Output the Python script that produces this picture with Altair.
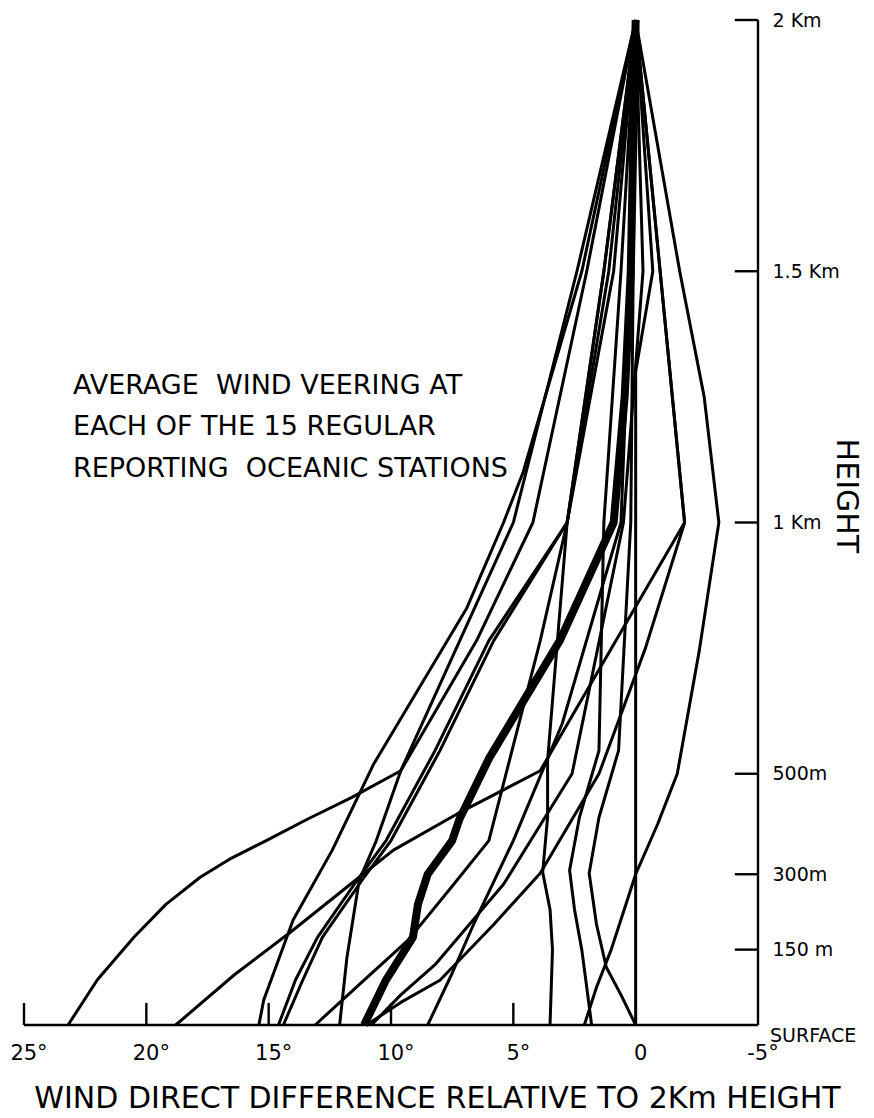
import altair as alt
import pandas as pd

# ---- station profiles: (height in m, wind direction difference in degrees) ----
STATION_01 = [(0, 23.2), (90, 22.0), (175, 20.5), (240, 19.2), (294, 17.8), (330, 16.6), (367, 15.1), (410, 13.4), (453, 11.6), (506, 9.6), (1000, 5.0), (1500, 2.4), (2000, 0)]
STATION_02 = [(0, 18.8), (100, 16.4), (185, 14.1), (294, 11.3), (348, 9.9), (420, 7.3), (506, 3.9), (1000, -2.0), (2000, 0)]
STATION_03 = [(0, 2.1), (75, 1.6), (150, 1.0), (225, 0.5), (300, 0.0), (400, -0.9), (500, -1.7), (745, -2.6), (1000, -3.4), (1250, -2.8), (1500, -1.8), (2000, 0)]
STATION_04 = [(0, 0.0), (1000, 0.0), (1300, 0.0), (1500, -0.7), (2000, 0)]
STATION_05 = [(0, 3.5), (150, 3.4), (230, 3.5), (304, 3.8), (413, 3.6), (526, 3.6), (1000, 2.8), (1500, 1.3), (2000, 0)]
STATION_06 = [(0, 1.8), (75, 2.0), (149, 2.2), (230, 2.5), (308, 2.7), (413, 2.3), (546, 1.5), (1000, 1.3), (1500, 0.6), (2000, 0)]
STATION_07 = [(0, 0.0), (60, 0.6), (115, 1.2), (200, 1.6), (302, 1.9), (413, 1.5), (546, 0.7), (1000, 0.2), (1500, 0.1), (2000, 0)]
STATION_08 = [(0, 15.4), (50, 15.2), (103, 14.8), (209, 14.0), (348, 12.4), (520, 10.7), (830, 6.9), (1000, 5.4), (1100, 4.6), (1500, 2.2), (2000, 0)]
STATION_09 = [(0, 14.6), (90, 13.9), (175, 13.0), (294, 11.3), (367, 10.2), (546, 8.2), (765, 6.0), (1000, 2.8), (1500, 1.3), (2000, 0)]
STATION_10 = [(0, 14.4), (90, 13.6), (175, 12.8), (294, 11.1), (367, 10.0), (546, 8.0), (765, 5.8), (1000, 2.8), (1500, 1.1), (2000, 0)]
STATION_11 = [(0, 13.1), (85, 11.2), (169, 9.3), (270, 7.6), (367, 6.0), (765, 3.9), (1000, 2.8), (1500, 0.9), (2000, 0)]
STATION_12 = [(0, 12.1), (135, 11.8), (288, 11.3), (367, 10.6), (506, 9.6), (765, 6.5), (1000, 4.2), (1500, 2.0), (2000, 0)]
STATION_13 = [(0, 8.5), (103, 7.5), (203, 6.6), (367, 5.0), (600, 3.0), (1000, 0.6), (1500, 0.2), (2000, 0)]
STATION_14 = [(0, 11.0), (45, 9.6), (89, 8.0), (200, 5.8), (302, 3.9), (500, 1.5), (750, -0.4), (1000, -2.0), (1500, -1.0), (2000, 0)]
STATION_15 = [(0, 10.8), (60, 9.6), (120, 8.2), (200, 6.8), (280, 5.4), (500, 2.6), (1000, 0.5), (1500, -0.3), (2000, 0)]
AVERAGE = [(0, 11.1), (90, 10.2), (175, 9.1), (240, 8.9), (300, 8.5), (367, 7.5), (410, 7.2), (530, 6.0), (765, 3.1), (1000, 0.9), (1250, 0.45), (1500, 0.2), (2000, 0)]

STATIONS = [STATION_01, STATION_02, STATION_03, STATION_04, STATION_05, STATION_06, STATION_07, STATION_08,
            STATION_09, STATION_10, STATION_11, STATION_12, STATION_13, STATION_14, STATION_15]

# ---- axes ----
X_LABEL_VALUES = [25, 20, 15, 10, 5, 0, -5]
X_LABELS = ["25°", "20°", "15°", "10°", "5°", "0", "-5°"]
X_TICKS = [25, 20, 15, 10, 5]
Y_TICKS = [150, 300, 500, 1000, 1500, 2000]
Y_TICK_LABELS = ["150 m", "300m", "500m", "1 Km", "1.5 Km", "2 Km"]
X_DOMAIN = [25, -5]
Y_DOMAIN = [0, 2000]

SP2 = "\u00a0 "
NOTE_LINES = ["AVERAGE" + SP2 + "WIND VEERING AT", "EACH OF THE 15 REGULAR", "REPORTING" + SP2 + "OCEANIC STATIONS"]
NOTE_X = 23.0
NOTE_Y = [1271, 1190, 1106]

FONT = "DejaVu Sans"

rows = []
for i, st in enumerate(STATIONS):
    for k, (h, d) in enumerate(st):
        rows.append({"station": f"S{i+1}", "order": k, "h": h, "deg": d})
lines_df = pd.DataFrame(rows)
avg_df = pd.DataFrame([{"station": "avg", "order": k, "h": h, "deg": d} for k, (h, d) in enumerate(AVERAGE)])

y_expr = " : ".join(f"datum.value == {v} ? '{t}'" for v, t in zip(Y_TICKS, Y_TICK_LABELS)) + " : ''"

xaxis = alt.Axis(values=X_LABEL_VALUES, labels=False,
                 domain=False, ticks=False, grid=False,
                 title="WIND DIRECT DIFFERENCE RELATIVE TO 2Km HEIGHT", titleFont=FONT,
                 titleFontSize=30, titleFontWeight="normal", titleColor="black",
                 titleX=413, titleY=82, titleBaseline="alphabetic", titleAlign="center")
yaxis = alt.Axis(orient="right", values=Y_TICKS, labelExpr=y_expr, domain=False, ticks=False,
                 grid=False, labelFlush=False, labelOverlap=False, labelFontSize=19,
                 labelPadding=14, labelFont=FONT, labelColor="black", title=None)

X = alt.X("deg:Q", scale=alt.Scale(domain=X_DOMAIN, nice=False, zero=False), axis=xaxis)
Y = alt.Y("h:Q", scale=alt.Scale(domain=Y_DOMAIN, nice=False, zero=False), axis=yaxis)

station_lines = alt.Chart(lines_df).mark_line(color="black", strokeWidth=3, strokeJoin="round").encode(
    x=X, y=Y, detail="station:N", order="order:Q")
avg_line = alt.Chart(avg_df).mark_line(color="black", strokeWidth=8, strokeJoin="round").encode(
    x=X, y=Y, order="order:Q")

# axis frame
frame_df = pd.DataFrame([
    {"deg": X_DOMAIN[0], "deg2": X_DOMAIN[1], "h": 0, "h2": 0},
    {"deg": X_DOMAIN[1], "deg2": X_DOMAIN[1], "h": Y_DOMAIN[0], "h2": Y_DOMAIN[1]},
] + [{"deg": t, "deg2": t, "h": 0, "h2": 44} for t in X_TICKS]
  + [{"deg": X_DOMAIN[1], "deg2": X_DOMAIN[1] + 0.95, "h": t, "h2": t} for t in Y_TICKS])
frame = alt.Chart(frame_df).mark_rule(color="black", strokeWidth=2.4).encode(
    x=X, x2="deg2:Q", y=Y, y2="h2:Q")

xlab_df = pd.DataFrame({"deg": X_LABEL_VALUES, "h": [0] * len(X_LABEL_VALUES), "text": X_LABELS})
xlabels = alt.Chart(xlab_df).mark_text(align="center", baseline="middle", font=FONT, fontSize=21,
                                       dx=5, dy=29, color="black").encode(x=X, y=Y, text="text:N")

note_df = pd.DataFrame({"deg": [NOTE_X] * 3, "h": NOTE_Y, "text": NOTE_LINES})
note = alt.Chart(note_df).mark_text(align="left", baseline="middle", font=FONT, fontSize=27,
                                    color="black").encode(x=X, y=Y, text="text:N")

surface = alt.Chart(pd.DataFrame({"deg": [X_DOMAIN[1]], "h": [0], "text": ["SURFACE"]})).mark_text(
    align="left", baseline="middle", font=FONT, fontSize=19, dx=12, dy=11, color="black").encode(
    x=X, y=Y, text="text:N")

height_title = alt.Chart(pd.DataFrame({"deg": [-8.6], "h": [1053], "text": ["HEIGHT"]})).mark_text(
    align="center", baseline="middle", font=FONT, fontSize=30, angle=90, color="black").encode(
    x=X, y=Y, text="text:N")

chart = alt.layer(frame, station_lines, avg_line, xlabels, note, surface, height_title).properties(
    width=734, height=1005,
    padding={"left": 16, "top": 12, "right": 108, "bottom": 90},
    autosize=alt.AutoSizeParams(type="none"),
    background="white",
).configure_view(stroke=None)

chart.save("out.html", embed_options={"renderer": "svg", "actions": False})
